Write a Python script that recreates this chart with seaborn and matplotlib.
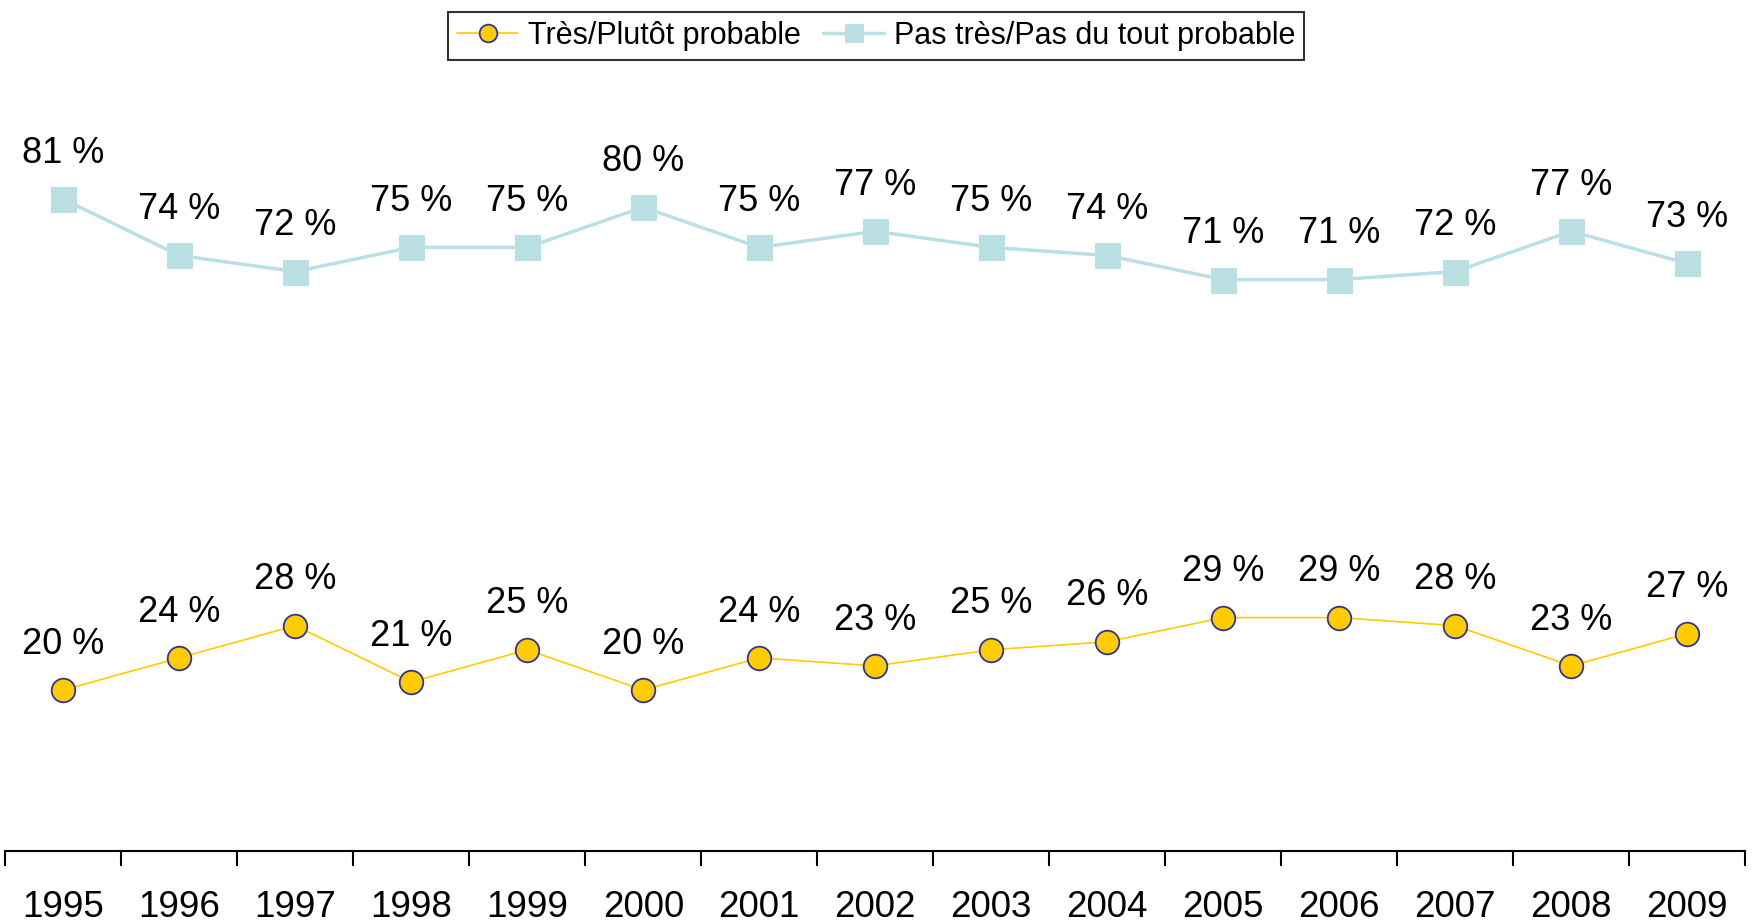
import seaborn as sns
import matplotlib.pyplot as plt
import pandas as pd

# values
years = [1995, 1996, 1997, 1998, 1999, 2000, 2001, 2002, 2003, 2004, 2005, 2006, 2007, 2008, 2009]
probable = [20, 24, 28, 21, 25, 20, 24, 23, 25, 26, 29, 29, 28, 23, 27]
pas_probable = [81, 74, 72, 75, 75, 80, 75, 77, 75, 74, 71, 71, 72, 77, 73]
labels = ["Très/Plutôt probable", "Pas très/Pas du tout probable"]

sns.set_style("white")
plt.rcParams["font.family"] = ["Liberation Sans", "DejaVu Sans"]
plt.rcParams["text.color"] = "black"
plt.rcParams["xtick.color"] = "black"

df = pd.DataFrame({"annee": years, "probable": probable, "pas_probable": pas_probable})

fig = plt.figure(figsize=(17.54, 9.24), dpi=100)
ax = fig.add_axes([0.003, 0.079, 0.992, 0.871])

sns.lineplot(data=df, x="annee", y="pas_probable", ax=ax, color="#BBE0E3", lw=2.5,
             marker="s", markersize=18, markeredgecolor="#BBE0E3", label=labels[1])
sns.lineplot(data=df, x="annee", y="probable", ax=ax, color="#FFCC00", lw=1.2,
             marker="o", markersize=17, markeredgecolor="#333399", markeredgewidth=1.3,
             label=labels[0])

# data labels above each point
for col in ["pas_probable", "probable"]:
    for x, y in zip(df["annee"], df[col]):
        ax.annotate(f"{y} %", (x, y), xytext=(0, 33), textcoords="offset points",
                    ha="center", va="center", fontsize=26, color="black")

ax.set_xlim(years[0] - 0.5, years[-1] + 0.5)
ax.set_ylim(0, 100)
ax.set_xlabel("")
ax.set_ylabel("")
ax.set_yticks([])

# ticks between the years, labels centred on the years
ax.set_xticks([y - 0.5 for y in years] + [years[-1] + 0.5])
ax.set_xticklabels([])
ax.set_xticks(years, minor=True)
ax.set_xticklabels([str(y) for y in years], minor=True, fontsize=26.5)
ax.tick_params(axis="x", which="major", direction="out", length=11, width=1.5, color="black", bottom=True)
ax.tick_params(axis="x", which="minor", length=0, pad=28, labelcolor="black")

for s in ["top", "left", "right"]:
    ax.spines[s].set_visible(False)
ax.spines["bottom"].set_color("black")
ax.spines["bottom"].set_linewidth(1.5)

handles, labs = ax.get_legend_handles_labels()
leg = fig.legend(handles[::-1], labs[::-1], loc="upper center", bbox_to_anchor=(0.4995, 1.004),
                 ncol=2, fontsize=22, frameon=True, fancybox=False, edgecolor="black",
                 handlelength=2.0, handletextpad=0.3, columnspacing=0.75, borderpad=0.3,
                 markerscale=0.75)
leg.get_frame().set_linewidth(1.5)
if ax.get_legend():
    ax.get_legend().remove()

fig.savefig("out.png", dpi=100)
